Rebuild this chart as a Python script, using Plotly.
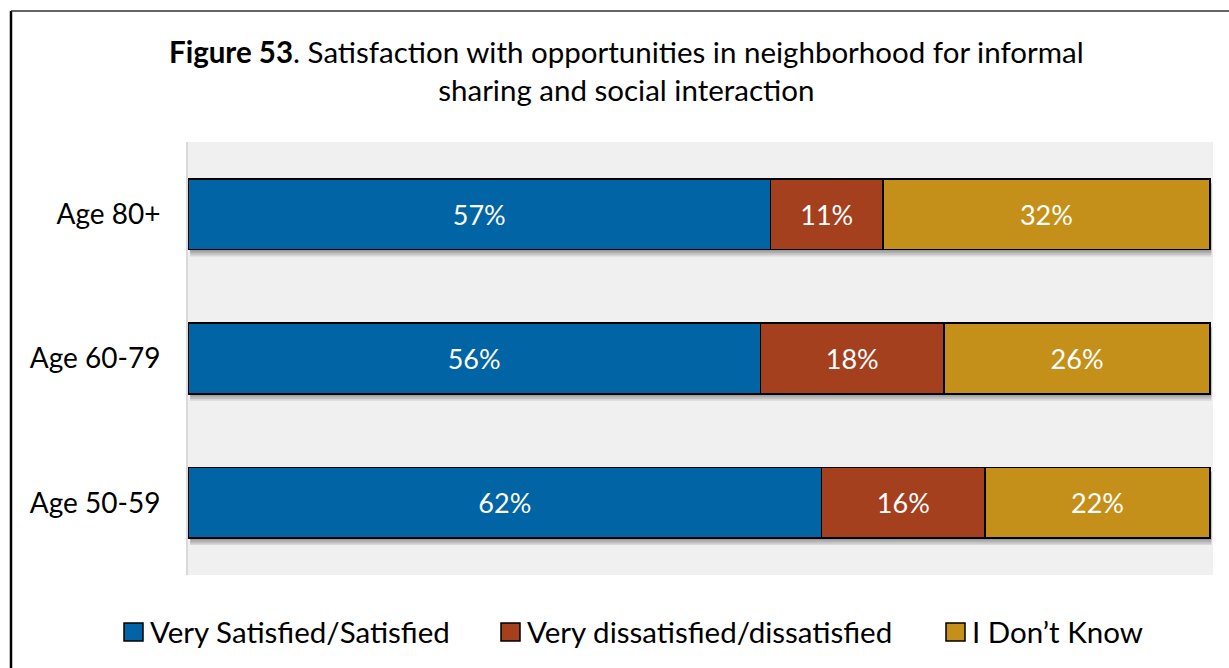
import plotly.graph_objects as go

# Survey results by age group (percent of respondents)
age_groups = ["Age 50-59", "Age 60-79", "Age 80+"]
satisfied = [62, 56, 57]
dissatisfied = [16, 18, 11]
dont_know = [22, 26, 32]

series_names = ["Very Satisfied/Satisfied", "Very dissatisfied/dissatisfied", "I Don\u2019t Know"]
series_colors = ["#0064A5", "#A5401F", "#C59019"]

FONT = "Lato"
W, H = 1229, 668
ml, mr, mt, mb = 188, 16, 142, 93
pw, ph = W - ml - mr, H - mt - mb
BAR_WIDTH = 0.49


def px_x(x):
    return (x - ml) / pw


def px_y(y):
    return 1 - (y - mt) / ph


fig = go.Figure()
for name, vals, color in zip(series_names, [satisfied, dissatisfied, dont_know], series_colors):
    fig.add_trace(go.Bar(
        y=age_groups,
        x=vals,
        name=name,
        orientation="h",
        width=BAR_WIDTH,
        marker=dict(color=color, line=dict(color="#000000", width=1.5)),
        text=[f"{v}%" for v in vals],
        textposition="inside",
        insidetextanchor="middle",
        textfont=dict(color="white", size=27, family=FONT),
        hoverinfo="skip",
        showlegend=False,
    ))

# Soft drop shadow under each stacked bar
totals = [a + b + c for a, b, c in zip(satisfied, dissatisfied, dont_know)]
for i, tot in enumerate(totals):
    for k in range(1, 5):
        fig.add_shape(type="rect", xref="x", yref="y", layer="below",
                      x0=0.2, x1=tot + 0.15,
                      y0=i - BAR_WIDTH / 2 - 0.012 * k, y1=i + BAR_WIDTH / 2 - 0.03,
                      fillcolor="rgba(0,0,0,0.10)", line=dict(width=0))

fig.update_layout(
    width=W,
    height=H,
    margin=dict(l=ml, r=mr, t=mt, b=mb, autoexpand=False),
    barmode="stack",
    paper_bgcolor="white",
    plot_bgcolor="#F0F0F0",
    font=dict(family=FONT, color="#000000"),
    showlegend=False,
    xaxis=dict(
        range=[0, 100.3],
        showgrid=False,
        zeroline=False,
        showticklabels=False,
        showline=False,
        fixedrange=True,
    ),
    yaxis=dict(
        categoryorder="array",
        categoryarray=age_groups,
        range=[-0.5, 2.5],
        showgrid=False,
        zeroline=False,
        showline=True,
        linecolor="#D9D9D9",
        linewidth=2,
        ticks="",
        ticklabelstandoff=20,
        tickfont=dict(size=28, family=FONT, color="#000000"),
    ),
)

# Title
fig.add_annotation(
    text="<b>Figure 53</b>. Satisfaction with opportunities in neighborhood for informal<br>sharing and social interaction",
    xref="paper", yref="paper",
    x=px_x(626), y=px_y(71),
    xanchor="center", yanchor="middle",
    showarrow=False, align="center",
    font=dict(size=29.5, family=FONT, color="#000000"),
)

# Legend drawn as swatches plus labels
legend_swatch_x = [124, 501, 946]
legend_y0, legend_y1 = 623, 641
for name, color, sx in zip(series_names, series_colors, legend_swatch_x):
    fig.add_shape(type="rect", xref="paper", yref="paper",
                  x0=px_x(sx), x1=px_x(sx + 19), y0=px_y(legend_y1), y1=px_y(legend_y0),
                  fillcolor=color, line=dict(color="#000000", width=1.5))
    fig.add_annotation(text=name, xref="paper", yref="paper",
                       x=px_x(sx + 24), y=px_y(631),
                       xanchor="left", yanchor="middle", showarrow=False,
                       font=dict(size=29.5, family=FONT, color="#000000"))

# Outer frame lines (left and top edges)
fig.add_shape(type="line", xref="paper", yref="paper",
              x0=px_x(11), x1=px_x(11), y0=px_y(11), y1=px_y(H + 5),
              line=dict(color="#000000", width=2.5))
fig.add_shape(type="line", xref="paper", yref="paper",
              x0=px_x(11), x1=px_x(W + 5), y0=px_y(11), y1=px_y(11),
              line=dict(color="#333333", width=1.5))

fig.write_html("out.html")
